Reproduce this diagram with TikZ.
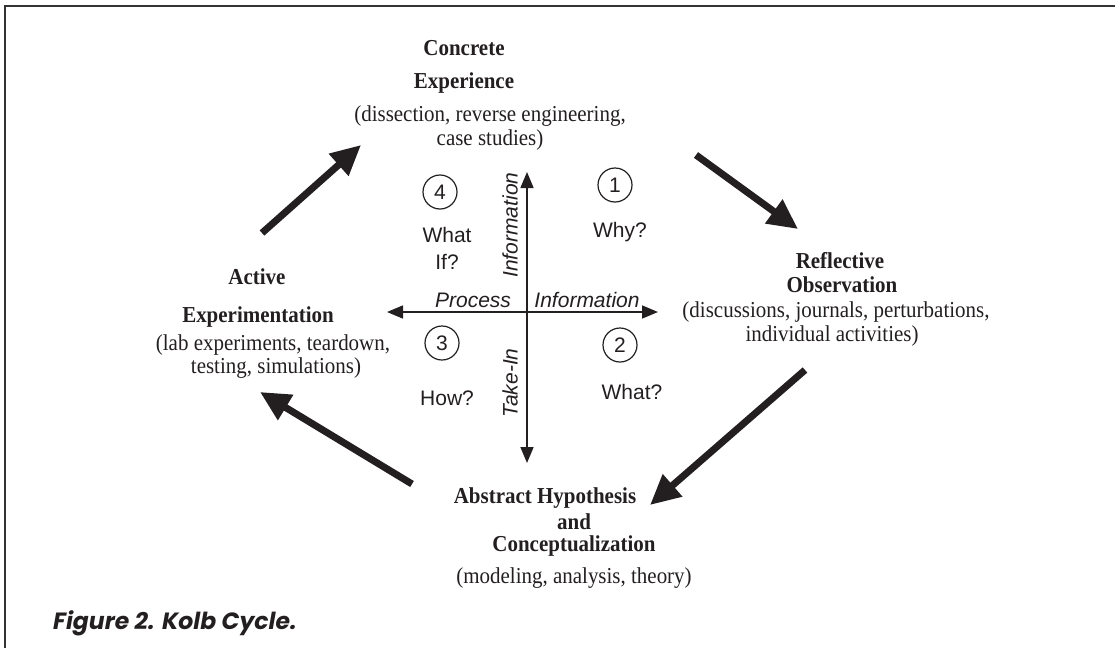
\documentclass[tikz,border=0pt]{standalone}
\usepackage{fontspec}
\setmainfont{Liberation Serif}[FakeStretch=0.92]
\newfontfamily\sansf{Liberation Sans}
\newfontfamily\capfont{Poppins}
\usetikzlibrary{arrows.meta}
\definecolor{ink}{HTML}{231F20}
\tikzset{
  serif/.style={font=\rmfamily\fontsize{22.8}{24}\selectfont, text=ink, inner sep=0pt, anchor=center},
  bserif/.style={font=\rmfamily\bfseries\fontsize{22.8}{24}\selectfont, text=ink, inner sep=0pt, anchor=center},
  sanslbl/.style={font=\sansf\fontsize{21}{24}\selectfont, text=ink, inner sep=0pt, anchor=center},
  isanslbl/.style={font=\sansf\itshape\fontsize{21}{24}\selectfont, text=ink, inner sep=0pt, anchor=center},
  numcircle/.style={circle, draw=ink, line width=1.2pt, minimum size=34pt, inner sep=0pt, font=\sansf\fontsize{21}{24}\selectfont, text=ink},
  bigarrow/.style={draw=ink, line width=7pt, -{Triangle[length=30pt,width=28pt]}},
  axisarrow/.style={draw=ink, line width=1.6pt, {Triangle[length=16pt,width=13pt]}-{Triangle[length=16pt,width=13pt]}},
  frameline/.style={draw=black!80, line width=2pt}
}
\begin{document}
\begin{tikzpicture}[x=1pt,y=-1pt]
\useasboundingbox (0,0) rectangle (1115,648);
% frame
\coordinate (fA) at (4,6);
\coordinate (fB) at (1115,6);
\coordinate (fC) at (5,6);
\coordinate (fD) at (5,648);
\draw[frameline] (fA) -- (fB);
\draw[frameline] (fC) -- (fD);

% Concrete Experience
\node[bserif] (ce1) at (464,48) {Concrete};
\node[bserif] (ce2) at (464,83) {Experience};
\node[serif] (ce3) at (490,116) {(dissection, reverse engineering,};
\node[serif] (ce4) at (490,140) {case studies)};

% Reflective Observation
\node[bserif] (ro1) at (840,261) {Reflective};
\node[bserif] (ro2) at (842,285) {Observation};
\node[serif] (ro3) at (836,312) {(discussions, journals, perturbations,};
\node[serif] (ro4) at (832,336) {individual activities)};

% Active Experimentation
\node[bserif] (ae1) at (257,277) {Active};
\node[bserif] (ae2) at (258,317) {Experimentation};
\node[serif] (ae3) at (273,345) {(lab experiments, teardown,};
\node[serif] (ae4) at (276,368) {testing, simulations)};

% Abstract Hypothesis
\node[bserif] (ah1) at (545,498) {Abstract Hypothesis};
\node[bserif] (ah2) at (574,522) {and};
\node[bserif] (ah3) at (574,546) {Conceptualization};
\node[serif] (ah4) at (574,578) {(modeling, analysis, theory)};

% axes
\coordinate (vt) at (527,172);
\coordinate (vb) at (527,463);
\coordinate (hl) at (387,312);
\coordinate (hr) at (658,312);
\draw[axisarrow] (vt) -- (vb);
\draw[axisarrow] (hl) -- (hr);

\node[isanslbl] (proc) at (473,300) {Process};
\node[isanslbl] (infoh) at (587,300) {Information};
\node[isanslbl, rotate=90] (infov) at (510,225) {Information};
\node[isanslbl, rotate=90] (takein) at (510,383) {Take-In};

% quadrants
\node[numcircle] (q4) at (440,192) {4};
\node[numcircle] (q1) at (615,185) {1};
\node[numcircle] (q3) at (442,343) {3};
\node[numcircle] (q2) at (620,345) {2};
\node[sanslbl] (wi1) at (447,235) {What};
\node[sanslbl] (wi2) at (447,262) {If?};
\node[sanslbl] (why) at (620,232) {Why?};
\node[sanslbl] (how) at (447,398) {How?};
\node[sanslbl] (what) at (632,392) {What?};

% cycle arrows
\coordinate (a1s) at (262,233);
\coordinate (a1e) at (361,145);
\coordinate (a2s) at (696,155);
\coordinate (a2e) at (798,229);
\coordinate (a3s) at (805,370);
\coordinate (a3e) at (650,505);
\coordinate (a4s) at (412,484);
\coordinate (a4e) at (260,392);
\draw[bigarrow] (a1s) -- (a1e);
\draw[bigarrow] (a2s) -- (a2e);
\draw[bigarrow] (a3s) -- (a3e);
\draw[bigarrow] (a4s) -- (a4e);

% caption
\node[font=\capfont\bfseries\itshape\fontsize{23.5}{26}\selectfont, text=ink, inner sep=0pt, anchor=west] (cap) at (53,623) {Figure 2. Kolb Cycle.};
\end{tikzpicture}
\end{document}
